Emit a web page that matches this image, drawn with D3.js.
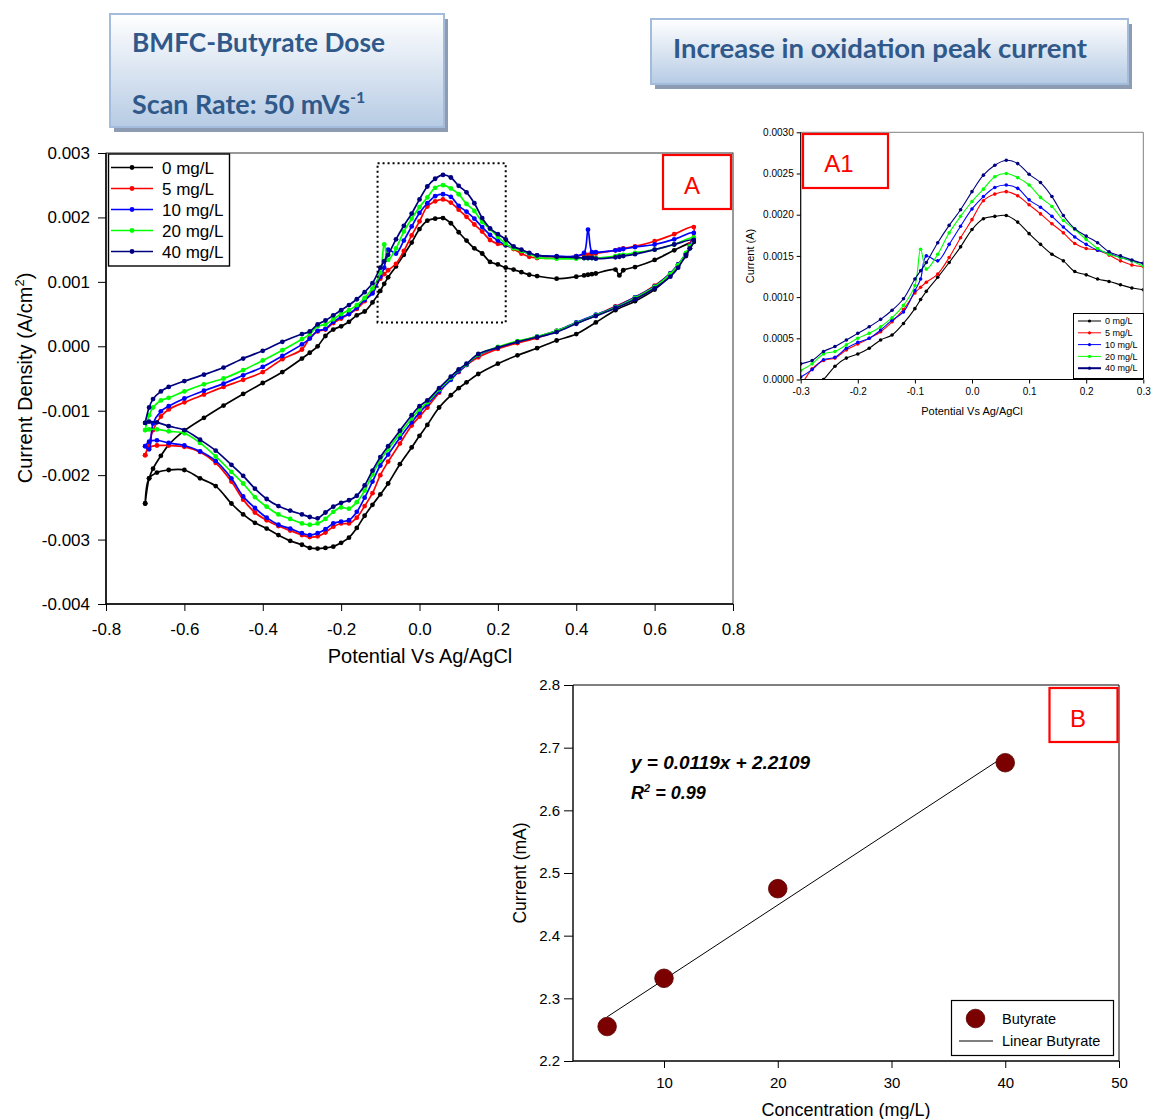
<!DOCTYPE html>
<html>
<head>
<meta charset="utf-8">
<script src="https://cdn.jsdelivr.net/npm/d3@7"></script>
<style>
body { margin: 0; background: #fff; }
svg { display: block; font-family: "Liberation Sans", Arial, sans-serif; }
</style>
</head>
<body>
<div id="chart"></div>
<script>
// potential (V vs Ag/AgCl) - forward sweep then reverse sweep
const potFwd = [-0.70, -0.69, -0.68, -0.66, -0.64, -0.60, -0.55, -0.50, -0.45, -0.40, -0.35,
  -0.30, -0.28, -0.26, -0.24, -0.22, -0.20, -0.18, -0.16, -0.14, -0.12, -0.10, -0.09, -0.08, -0.06, -0.04, -0.02,
  0.00, 0.02, 0.04, 0.06, 0.08, 0.10, 0.12, 0.14, 0.16, 0.18, 0.20, 0.22, 0.24, 0.26, 0.28, 0.30,
  0.35, 0.40, 0.42, 0.43, 0.44, 0.45, 0.50, 0.51, 0.52, 0.55, 0.60, 0.65, 0.70];
const potRev = [0.69, 0.68, 0.66, 0.64, 0.60, 0.55, 0.50, 0.45, 0.40, 0.35, 0.30, 0.25, 0.20, 0.15,
  0.12, 0.10, 0.08, 0.05, 0.02, 0.00, -0.02, -0.05, -0.08, -0.10,
  -0.12, -0.14, -0.16, -0.18, -0.20, -0.22, -0.24, -0.26, -0.28, -0.30,
  -0.33, -0.36, -0.39, -0.42, -0.45, -0.48, -0.52, -0.56, -0.60, -0.64, -0.67, -0.69, -0.70];

// current density, mA/cm2
const fwd0 = [-2.44, -2.05, -1.90, -1.70, -1.53, -1.31, -1.11, -0.92, -0.74, -0.57, -0.40,
  -0.19, -0.10, 0.00, 0.16, 0.26, 0.31, 0.38, 0.48, 0.54, 0.68, 0.86, 0.97, 1.07, 1.24, 1.42, 1.61,
  1.82, 1.95, 1.98, 1.99, 1.91, 1.77, 1.64, 1.52, 1.44, 1.31, 1.27, 1.22, 1.19, 1.15, 1.11, 1.09,
  1.05, 1.08, 1.10, 1.11, 1.12, 1.13, 1.19, 1.10, 1.18, 1.23, 1.34, 1.49, 1.62];
const fwd5 = [-1.69, -1.50, -1.30, -1.09, -0.98, -0.87, -0.75, -0.63, -0.52, -0.40, -0.20,
  -0.05, 0.13, 0.23, 0.26, 0.36, 0.43, 0.50, 0.58, 0.70, 0.85, 1.05, 1.12, 1.18, 1.28, 1.48, 1.72,
  1.94, 2.17, 2.25, 2.28, 2.23, 2.12, 2.01, 1.89, 1.78, 1.65, 1.59, 1.57, 1.51, 1.44, 1.39, 1.37,
  1.37, 1.40, 1.42, 1.42, 1.43, 1.44, 1.49, 1.50, 1.52, 1.55, 1.63, 1.74, 1.85];
const fwd10 = [-1.55, -1.60, -1.20, -1.01, -0.93, -0.81, -0.69, -0.58, -0.45, -0.32, -0.15,
  0.03, 0.12, 0.24, 0.27, 0.38, 0.45, 0.50, 0.60, 0.72, 0.82, 1.08, 1.22, 1.50, 1.44, 1.64, 1.86,
  2.07, 2.22, 2.33, 2.36, 2.32, 2.18, 2.09, 1.98, 1.85, 1.73, 1.64, 1.57, 1.53, 1.48, 1.44, 1.41,
  1.40, 1.40, 1.45, 1.81, 1.46, 1.46, 1.49, 1.50, 1.51, 1.54, 1.58, 1.66, 1.76];
const fwd20 = [-1.30, -1.07, -0.95, -0.84, -0.80, -0.70, -0.59, -0.50, -0.37, -0.22, -0.06,
  0.11, 0.19, 0.31, 0.34, 0.42, 0.50, 0.56, 0.64, 0.75, 0.90, 1.14, 1.58, 1.34, 1.52, 1.78, 1.98,
  2.16, 2.31, 2.46, 2.50, 2.45, 2.36, 2.21, 2.10, 1.93, 1.82, 1.70, 1.59, 1.52, 1.48, 1.44, 1.38,
  1.36, 1.36, 1.37, 1.37, 1.37, 1.37, 1.40, 1.41, 1.42, 1.45, 1.50, 1.58, 1.69];
const fwd40 = [-1.19, -0.95, -0.82, -0.70, -0.63, -0.54, -0.44, -0.33, -0.19, -0.07, 0.07,
  0.19, 0.23, 0.34, 0.40, 0.48, 0.56, 0.64, 0.73, 0.84, 0.98, 1.22, 1.32, 1.42, 1.66, 1.87, 2.06,
  2.28, 2.48, 2.60, 2.66, 2.62, 2.49, 2.39, 2.22, 1.99, 1.83, 1.74, 1.66, 1.55, 1.50, 1.45, 1.41,
  1.39, 1.38, 1.37, 1.37, 1.37, 1.36, 1.38, 1.39, 1.40, 1.43, 1.50, 1.58, 1.65];

const rev0 = [1.52, 1.40, 1.25, 1.10, 0.88, 0.70, 0.56, 0.37, 0.19, 0.09, -0.03, -0.14, -0.27, -0.43,
  -0.56, -0.65, -0.76, -0.95, -1.22, -1.39, -1.57, -1.83, -2.13, -2.30,
  -2.46, -2.63, -2.82, -2.97, -3.05, -3.11, -3.13, -3.14, -3.13, -3.08,
  -3.02, -2.93, -2.83, -2.74, -2.61, -2.44, -2.17, -2.05, -1.92, -1.92, -1.96, -2.05, -2.44];
const rev5 = [1.58, 1.43, 1.27, 1.13, 0.94, 0.76, 0.62, 0.48, 0.36, 0.24, 0.13, 0.05, -0.04, -0.17,
  -0.29, -0.40, -0.50, -0.72, -0.95, -1.09, -1.23, -1.51, -1.79, -2.00,
  -2.28, -2.48, -2.66, -2.75, -2.75, -2.80, -2.89, -2.95, -2.96, -2.93,
  -2.86, -2.79, -2.70, -2.58, -2.38, -2.10, -1.81, -1.64, -1.56, -1.54, -1.54, -1.57, -1.69];
const rev10 = [1.56, 1.44, 1.27, 1.13, 0.93, 0.76, 0.61, 0.49, 0.37, 0.24, 0.15, 0.07, -0.02, -0.14,
  -0.29, -0.39, -0.52, -0.70, -0.90, -1.03, -1.18, -1.42, -1.68, -1.85,
  -2.10, -2.35, -2.57, -2.70, -2.72, -2.75, -2.84, -2.90, -2.93, -2.90,
  -2.83, -2.77, -2.66, -2.51, -2.33, -2.05, -1.78, -1.63, -1.54, -1.50, -1.46, -1.48, -1.55];
const rev20 = [1.55, 1.45, 1.26, 1.12, 0.92, 0.75, 0.60, 0.48, 0.36, 0.24, 0.15, 0.08, -0.01, -0.13,
  -0.28, -0.37, -0.49, -0.67, -0.87, -0.98, -1.12, -1.36, -1.60, -1.77,
  -1.99, -2.24, -2.42, -2.52, -2.50, -2.57, -2.68, -2.75, -2.77, -2.75,
  -2.68, -2.61, -2.49, -2.34, -2.13, -1.95, -1.71, -1.50, -1.35, -1.32, -1.29, -1.29, -1.30];
const rev40 = [1.52, 1.42, 1.22, 1.08, 0.90, 0.73, 0.59, 0.47, 0.35, 0.22, 0.14, 0.07, -0.02, -0.12,
  -0.27, -0.36, -0.47, -0.65, -0.84, -0.93, -1.07, -1.31, -1.55, -1.72,
  -1.93, -2.16, -2.32, -2.39, -2.43, -2.49, -2.58, -2.67, -2.65, -2.61,
  -2.55, -2.48, -2.37, -2.21, -2.01, -1.84, -1.62, -1.45, -1.30, -1.24, -1.18, -1.17, -1.19];

const doses = ['0 mg/L', '5 mg/L', '10 mg/L', '20 mg/L', '40 mg/L'];
const colors = ['#000000', '#ff0000', '#0000ff', '#00ff00', '#00007f'];
const fwdVals = [fwd0, fwd5, fwd10, fwd20, fwd40];
const revVals = [rev0, rev5, rev10, rev20, rev40];

const xTicksA = [-0.8, -0.6, -0.4, -0.2, 0.0, 0.2, 0.4, 0.6, 0.8];
const yTicksA = [-0.004, -0.003, -0.002, -0.001, 0, 0.001, 0.002, 0.003];
const xTicksA1 = [-0.3, -0.2, -0.1, 0, 0.1, 0.2, 0.3];
const yTicksA1 = [0, 0.0005, 0.001, 0.0015, 0.002, 0.0025, 0.003];

// panel B: oxidation peak current vs dose
const conc = [5, 10, 20, 40];
const peakCurrent = [2.255, 2.332, 2.475, 2.676];
const fitSlope = 0.0119;
const fitIntercept = 2.2109;
const xTicksB = [10, 20, 30, 40, 50];
const yTicksB = [2.2, 2.3, 2.4, 2.5, 2.6, 2.7, 2.8];

const series = doses.map((name, i) => ({
  name: name,
  color: colors[i],
  pts: potFwd.map((e, j) => [e, fwdVals[i][j] / 1000])
    .concat(potRev.map((e, j) => [e, revVals[i][j] / 1000]))
}));

const W = 1151, H = 1119;
const svg = d3.select('#chart').append('svg').attr('width', W).attr('height', H);
svg.append('rect').attr('width', W).attr('height', H).attr('fill', '#fff');
const defs = svg.append('defs');

const grad = defs.append('linearGradient').attr('id', 'boxGrad')
  .attr('x1', 0).attr('y1', 0).attr('x2', 0).attr('y2', 1);
grad.append('stop').attr('offset', '0%').attr('stop-color', '#ffffff');
grad.append('stop').attr('offset', '100%').attr('stop-color', '#b6cbe4');

function styleAxis(g, size) {
  g.select('.domain').remove();
  g.selectAll('line').attr('stroke', '#000');
  g.selectAll('text').attr('fill', '#000').attr('font-size', size)
    .attr('font-family', '"Liberation Sans", Arial, sans-serif');
}

// ---------- title boxes ----------
function titleBox(x, y, w, h) {
  svg.append('rect').attr('x', x + 4).attr('y', y + 5).attr('width', w).attr('height', h)
    .attr('fill', '#8d9cb2');
  svg.append('rect').attr('x', x).attr('y', y).attr('width', w).attr('height', h)
    .attr('fill', 'url(#boxGrad)').attr('stroke', '#a3bcdc').attr('stroke-width', 2);
}
titleBox(110, 14, 334, 113);
titleBox(651, 19, 477, 65);

const titleFont = 'Lato, "Open Sans", sans-serif';
svg.append('text').attr('x', 132).attr('y', 52)
  .attr('font-family', titleFont).attr('font-weight', 700).attr('font-size', 26)
  .attr('fill', '#30598a').attr('textLength', 253).attr('lengthAdjust', 'spacingAndGlyphs')
  .text('BMFC-Butyrate Dose');
const scan = svg.append('text').attr('x', 132).attr('y', 114)
  .attr('font-family', titleFont).attr('font-weight', 700).attr('font-size', 26)
  .attr('fill', '#30598a');
scan.append('tspan').attr('textLength', 218).attr('lengthAdjust', 'spacingAndGlyphs').text('Scan Rate: 50 mVs');
scan.append('tspan').attr('dy', -11).attr('font-size', 16).text('-1');
svg.append('text').attr('x', 673).attr('y', 58)
  .attr('font-family', titleFont).attr('font-weight', 700).attr('font-size', 26)
  .attr('fill', '#30598a').attr('textLength', 414).attr('lengthAdjust', 'spacingAndGlyphs')
  .text('Increase in oxidation peak current');

function labelBox(x, y, w, h, label, size, tx, ty) {
  svg.append('rect').attr('x', x).attr('y', y).attr('width', w).attr('height', h)
    .attr('fill', 'none').attr('stroke', '#ff0000').attr('stroke-width', 2.2);
  svg.append('text').attr('x', tx).attr('y', ty).attr('text-anchor', 'middle')
    .attr('font-size', size).attr('fill', '#ff0000').text(label);
}

// ---------- panel A ----------
const xA = d3.scaleLinear().domain([-0.8, 0.8]).range([106, 733]);
const yA = d3.scaleLinear().domain([-0.004, 0.003]).range([604, 153]);

const gA = svg.append('g');
gA.append('rect').attr('x', xA(-0.8)).attr('y', yA(0.003))
  .attr('width', xA(0.8) - xA(-0.8)).attr('height', yA(-0.004) - yA(0.003))
  .attr('fill', 'none').attr('stroke', '#333').attr('stroke-width', 1);

gA.append('g').attr('transform', `translate(0,${yA(-0.004)})`)
  .call(d3.axisBottom(xA).tickValues(xTicksA).tickFormat(d => d.toFixed(1))
    .tickSizeInner(7).tickSizeOuter(0).tickPadding(12))
  .call(g => styleAxis(g, 17));
gA.append('g').attr('transform', `translate(${xA(-0.8)},0)`)
  .call(d3.axisLeft(yA).tickValues(yTicksA).tickFormat(d => d.toFixed(3))
    .tickSizeInner(8).tickSizeOuter(0).tickPadding(8))
  .call(g => styleAxis(g, 17));
gA.append('line').attr('x1', xA(-0.8)).attr('x2', xA(-0.8)).attr('y1', yA(0.003)).attr('y2', yA(-0.004))
  .attr('stroke', '#000').attr('stroke-width', 1.5);
gA.append('line').attr('x1', xA(-0.8)).attr('x2', xA(0.8)).attr('y1', yA(-0.004)).attr('y2', yA(-0.004))
  .attr('stroke', '#000').attr('stroke-width', 1.5);

gA.append('text').attr('x', 420).attr('y', 663).attr('text-anchor', 'middle')
  .attr('font-size', 20).text('Potential Vs Ag/AgCl');
const yLabA = gA.append('text').attr('transform', 'translate(32,378) rotate(-90)')
  .attr('text-anchor', 'middle').attr('font-size', 20);
yLabA.append('tspan').text('Current Density (A/cm');
yLabA.append('tspan').attr('dy', -8).attr('font-size', 13).text('2');
yLabA.append('tspan').attr('dy', 8).text(')');

function drawCurves(g, x, y, lw, r) {
  const line = d3.line().x(d => x(d[0])).y(d => y(d[1])).curve(d3.curveCatmullRom.alpha(0.5));
  series.forEach(s => {
    const sg = g.append('g');
    sg.append('path').attr('d', line(s.pts)).attr('fill', 'none')
      .attr('stroke', s.color).attr('stroke-width', lw).attr('stroke-linejoin', 'round');
    sg.selectAll('circle').data(s.pts).join('circle')
      .attr('cx', d => x(d[0])).attr('cy', d => y(d[1])).attr('r', r).attr('fill', s.color);
  });
}

defs.append('clipPath').attr('id', 'clipA').append('rect')
  .attr('x', xA(-0.8)).attr('y', yA(0.003)).attr('width', xA(0.8) - xA(-0.8)).attr('height', yA(-0.004) - yA(0.003));
drawCurves(gA.append('g').attr('clip-path', 'url(#clipA)'), xA, yA, 1.7, 2.4);

// dotted zoom window
gA.append('rect').attr('x', xA(-0.107)).attr('y', yA(0.00284))
  .attr('width', xA(0.22) - xA(-0.107)).attr('height', yA(0.00037) - yA(0.00284))
  .attr('fill', 'none').attr('stroke', '#000').attr('stroke-width', 2).attr('stroke-dasharray', '2,3');

// legend A
const legA = gA.append('g');
legA.append('rect').attr('x', 108.5).attr('y', 154).attr('width', 121).attr('height', 112)
  .attr('fill', '#fff').attr('stroke', '#000').attr('stroke-width', 1.4);
series.forEach((s, i) => {
  const ly = 167.5 + i * 21;
  legA.append('line').attr('x1', 111).attr('x2', 153).attr('y1', ly).attr('y2', ly)
    .attr('stroke', s.color).attr('stroke-width', 1.5);
  legA.append('circle').attr('cx', 132).attr('cy', ly).attr('r', 2.4).attr('fill', s.color);
  legA.append('text').attr('x', 162).attr('y', ly + 6).attr('font-size', 17).text(s.name);
});

labelBox(663, 155, 68, 54, 'A', 24, 692, 194);

// ---------- inset A1 ----------
const xI = d3.scaleLinear().domain([-0.3, 0.3]).range([800.7, 1143.3]);
const yI = d3.scaleLinear().domain([0, 0.003]).range([379.5, 132.3]);
const gI = svg.append('g');

defs.append('clipPath').attr('id', 'clipI').append('rect')
  .attr('x', xI(-0.3)).attr('y', yI(0.003)).attr('width', xI(0.3) - xI(-0.3)).attr('height', yI(0) - yI(0.003));
drawCurves(gI.append('g').attr('clip-path', 'url(#clipI)'), xI, yI, 1.1, 1.8);

gI.append('line').attr('x1', xI(-0.3)).attr('x2', xI(0.3)).attr('y1', yI(0.003)).attr('y2', yI(0.003))
  .attr('stroke', '#808080').attr('stroke-width', 1);
gI.append('line').attr('x1', xI(0.3)).attr('x2', xI(0.3)).attr('y1', yI(0.003)).attr('y2', yI(0))
  .attr('stroke', '#808080').attr('stroke-width', 1);
gI.append('g').attr('transform', `translate(0,${yI(0)})`)
  .call(d3.axisBottom(xI).tickValues(xTicksA1).tickFormat(d => d.toFixed(1))
    .tickSizeInner(4).tickSizeOuter(0).tickPadding(4))
  .call(g => styleAxis(g, 10));
gI.append('g').attr('transform', `translate(${xI(-0.3)},0)`)
  .call(d3.axisLeft(yI).tickValues(yTicksA1).tickFormat(d => d.toFixed(4))
    .tickSizeInner(4).tickSizeOuter(0).tickPadding(3))
  .call(g => styleAxis(g, 10));
gI.append('line').attr('x1', xI(-0.3)).attr('x2', xI(-0.3)).attr('y1', yI(0.003)).attr('y2', yI(0))
  .attr('stroke', '#000').attr('stroke-width', 1.2);
gI.append('line').attr('x1', xI(-0.3)).attr('x2', xI(0.3)).attr('y1', yI(0)).attr('y2', yI(0))
  .attr('stroke', '#000').attr('stroke-width', 1.2);
gI.append('text').attr('x', 972).attr('y', 415).attr('text-anchor', 'middle')
  .attr('font-size', 11).text('Potential Vs Ag/AgCl');
gI.append('text').attr('transform', 'translate(754,256) rotate(-90)').attr('text-anchor', 'middle')
  .attr('font-size', 11).text('Current (A)');

const legI = gI.append('g');
legI.append('rect').attr('x', 1073.5).attr('y', 313.5).attr('width', 70).attr('height', 65)
  .attr('fill', '#fff').attr('stroke', '#000').attr('stroke-width', 1);
series.forEach((s, i) => {
  const ly = 321 + i * 11.8;
  legI.append('line').attr('x1', 1078).attr('x2', 1101).attr('y1', ly).attr('y2', ly)
    .attr('stroke', s.color).attr('stroke-width', i === 4 ? 2 : 1);
  legI.append('circle').attr('cx', 1089.5).attr('cy', ly).attr('r', 1.6).attr('fill', s.color);
  legI.append('text').attr('x', 1105).attr('y', ly + 3.2).attr('font-size', 9).text(s.name);
});

labelBox(803, 134, 85, 54, 'A1', 24, 839, 172);

// ---------- panel B ----------
const xB = d3.scaleLinear().domain([2, 50]).range([573, 1119]);
const yB = d3.scaleLinear().domain([2.2, 2.8]).range([1061, 685]);
const gB = svg.append('g');

gB.append('line').attr('x1', xB(2)).attr('x2', xB(50)).attr('y1', yB(2.8)).attr('y2', yB(2.8))
  .attr('stroke', '#000').attr('stroke-width', 1);
gB.append('line').attr('x1', xB(50)).attr('x2', xB(50)).attr('y1', yB(2.8)).attr('y2', yB(2.2))
  .attr('stroke', '#000').attr('stroke-width', 1);
gB.append('g').attr('transform', `translate(0,${yB(2.2)})`)
  .call(d3.axisBottom(xB).tickValues(xTicksB).tickFormat(d3.format('d'))
    .tickSizeInner(7).tickSizeOuter(0).tickPadding(9))
  .call(g => styleAxis(g, 15));
gB.append('g').attr('transform', `translate(${xB(2)},0)`)
  .call(d3.axisLeft(yB).tickValues(yTicksB).tickFormat(d => d.toFixed(1))
    .tickSizeInner(9).tickSizeOuter(0).tickPadding(4))
  .call(g => styleAxis(g, 15));
gB.append('line').attr('x1', xB(2)).attr('x2', xB(2)).attr('y1', yB(2.8)).attr('y2', yB(2.2))
  .attr('stroke', '#000').attr('stroke-width', 1.4);
gB.append('line').attr('x1', xB(2)).attr('x2', xB(50)).attr('y1', yB(2.2)).attr('y2', yB(2.2))
  .attr('stroke', '#000').attr('stroke-width', 1.4);

gB.append('text').attr('x', 846).attr('y', 1116).attr('text-anchor', 'middle')
  .attr('font-size', 18).text('Concentration (mg/L)');
gB.append('text').attr('transform', 'translate(526,873) rotate(-90)').attr('text-anchor', 'middle')
  .attr('font-size', 17.5).text('Current (mA)');

// linear fit
gB.append('line')
  .attr('x1', xB(conc[0])).attr('y1', yB(fitSlope * conc[0] + fitIntercept))
  .attr('x2', xB(conc[conc.length - 1])).attr('y2', yB(fitSlope * conc[conc.length - 1] + fitIntercept))
  .attr('stroke', '#000').attr('stroke-width', 1);
gB.selectAll('.pt').data(conc).join('circle').attr('class', 'pt')
  .attr('cx', d => xB(d)).attr('cy', (d, i) => yB(peakCurrent[i])).attr('r', 9.3)
  .attr('fill', '#7b0000').attr('stroke', '#5a0000').attr('stroke-width', 0.8);

const eq = gB.append('g').attr('font-weight', 700).attr('font-style', 'italic').attr('font-size', 18);
eq.append('text').attr('x', 631).attr('y', 769).attr('textLength', 179).attr('lengthAdjust', 'spacingAndGlyphs')
  .text('y = 0.0119x + 2.2109');
const r2 = eq.append('text').attr('x', 631).attr('y', 799);
r2.append('tspan').text('R');
r2.append('tspan').attr('dy', -7).attr('font-size', 11).text('2');
r2.append('tspan').attr('dy', 7).text(' = 0.99');

const legB = gB.append('g');
legB.append('rect').attr('x', 951.5).attr('y', 1000.5).attr('width', 162).attr('height', 55)
  .attr('fill', '#fff').attr('stroke', '#000').attr('stroke-width', 1.2);
legB.append('circle').attr('cx', 975.5).attr('cy', 1018.5).attr('r', 9.3)
  .attr('fill', '#7b0000').attr('stroke', '#5a0000').attr('stroke-width', 0.8);
legB.append('text').attr('x', 1002).attr('y', 1024).attr('font-size', 14.5).text('Butyrate');
legB.append('line').attr('x1', 959).attr('x2', 993).attr('y1', 1041).attr('y2', 1041)
  .attr('stroke', '#000').attr('stroke-width', 1);
legB.append('text').attr('x', 1002).attr('y', 1046).attr('font-size', 14.5).text('Linear Butyrate');

labelBox(1049.5, 688, 68, 54, 'B', 24, 1078, 727);
</script>
</body>
</html>
